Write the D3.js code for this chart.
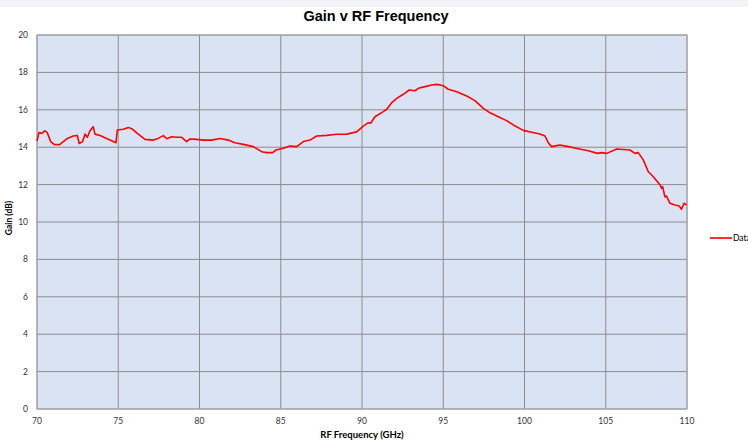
<!DOCTYPE html>
<html>
<head>
<meta charset="utf-8">
<script src="https://cdn.jsdelivr.net/npm/d3@7"></script>
<style>
  body { margin: 0; background: #fff; overflow: hidden; }
  svg { display: block; font-family: Lato, "Liberation Sans", Arial, sans-serif; }
</style>
</head>
<body>
<svg id="chart" width="748" height="441"></svg>
<script>
// Values
const freq = [70.0, 70.12, 70.29, 70.49, 70.63, 70.84, 71.05, 71.37, 71.62, 71.87, 72.23, 72.48, 72.6, 72.81, 72.95, 73.1, 73.26, 73.46, 73.57, 73.88, 74.39, 74.86,
  74.94, 75.31, 75.62, 75.83, 76.23, 76.65, 77.16, 77.46, 77.78, 77.98, 78.29, 78.6, 78.9, 79.21, 79.42, 79.83, 80.23, 80.75, 81.26, 81.77, 82.18, 82.7,
  83.31, 83.83, 84.13, 84.5, 84.71, 85.16, 85.57, 85.98, 86.39, 86.8, 87.21, 87.83, 88.44, 89.06, 89.67, 90.08, 90.39, 90.53, 90.8, 91.31, 91.52, 91.83,
  92.14, 92.54, 92.91, 93.26, 93.47, 93.88, 94.29, 94.63, 95.0, 95.31, 95.83, 96.44, 96.95, 97.47, 97.88, 98.39, 98.9, 99.31, 99.93, 100.44, 100.95,
  101.26, 101.46, 101.67, 102.18, 102.7, 103.31, 103.93, 104.49, 104.76, 105.06, 105.68, 106.49, 106.8, 107.0, 107.31, 107.62, 107.93, 108.17, 108.34,
  108.44, 108.5, 108.64, 108.74, 108.95, 109.26, 109.52, 109.66, 109.82, 109.98];
const gain = [14.33, 14.78, 14.74, 14.88, 14.78, 14.3, 14.15, 14.13, 14.3, 14.47, 14.6, 14.63, 14.2, 14.3, 14.7, 14.53, 14.88, 15.1, 14.7, 14.63, 14.42, 14.24,
  14.92, 14.96, 15.06, 14.99, 14.7, 14.42, 14.38, 14.47, 14.62, 14.45, 14.56, 14.53, 14.53, 14.3, 14.44, 14.42, 14.38, 14.38, 14.47, 14.38, 14.24, 14.15,
  14.03, 13.76, 13.71, 13.71, 13.85, 13.94, 14.06, 14.03, 14.3, 14.38, 14.6, 14.63, 14.69, 14.7, 14.82, 15.13, 15.31, 15.28, 15.63, 15.9, 16.03, 16.38,
  16.61, 16.83, 17.06, 17.02, 17.15, 17.24, 17.33, 17.36, 17.29, 17.1, 16.97, 16.74, 16.49, 16.08, 15.84, 15.63, 15.42, 15.19, 14.9, 14.8, 14.71,
  14.6, 14.24, 14.03, 14.12, 14.03, 13.92, 13.81, 13.67, 13.71, 13.67, 13.9, 13.85, 13.67, 13.71, 13.32, 12.69, 12.42, 12.16, 11.98,
  11.8, 11.89, 11.35, 11.39, 11.0, 10.91, 10.86, 10.68, 11.0, 10.91];
const xTicks = [70, 75, 80, 85, 90, 95, 100, 105, 110];
const yTicks = [0, 2, 4, 6, 8, 10, 12, 14, 16, 18, 20];

const svg = d3.select("#chart");
const plot = { left: 37, right: 687, top: 35, bottom: 409 };

const x = d3.scaleLinear().domain([70, 110]).range([plot.left, plot.right]);
const y = d3.scaleLinear().domain([0, 20]).range([plot.bottom, plot.top]);

// thin light strip at the top
svg.append("rect").attr("x", 0).attr("y", 0).attr("width", 748).attr("height", 7).attr("fill", "#f2f5f8");

// plot background
svg.append("rect")
  .attr("x", plot.left).attr("y", plot.top)
  .attr("width", plot.right - plot.left).attr("height", plot.bottom - plot.top)
  .attr("fill", "#dae3f3");

// grid
svg.append("g").selectAll("line").data(yTicks).join("line")
  .attr("x1", plot.left).attr("x2", plot.right)
  .attr("y1", d => y(d)).attr("y2", d => y(d))
  .attr("stroke", "#8c8c8c").attr("stroke-width", 1);
svg.append("g").selectAll("line").data(xTicks).join("line")
  .attr("x1", d => x(d)).attr("x2", d => x(d))
  .attr("y1", plot.top).attr("y2", plot.bottom)
  .attr("stroke", "#8c8c8c").attr("stroke-width", 1);

// plot border
svg.append("rect")
  .attr("x", plot.left).attr("y", plot.top)
  .attr("width", plot.right - plot.left).attr("height", plot.bottom - plot.top)
  .attr("fill", "none").attr("stroke", "#a6a6a6").attr("stroke-width", 1);

// tick labels
svg.append("g").selectAll("text").data(yTicks).join("text")
  .attr("x", 28).attr("y", d => y(d) + 3)
  .attr("text-anchor", "end").attr("font-size", 8.5).attr("fill", "#333")
  .text(d => d);
svg.append("g").selectAll("text").data(xTicks).join("text")
  .attr("x", d => x(d)).attr("y", 424)
  .attr("text-anchor", "middle").attr("font-size", 8.5).attr("fill", "#333")
  .text(d => d);

// data line
const line = d3.line().x((d, i) => x(freq[i])).y(d => y(d));
svg.append("path")
  .datum(gain)
  .attr("d", line)
  .attr("fill", "none").attr("stroke", "#ff0000").attr("stroke-width", 1.6)
  .attr("stroke-linejoin", "round");

// titles
svg.append("text").attr("x", 376).attr("y", 21)
  .attr("text-anchor", "middle").attr("font-size", 14.5).attr("font-weight", "bold")
  .attr("font-family", "'Liberation Sans', Arial, sans-serif")
  .text("Gain v RF Frequency");
svg.append("text").attr("x", 362).attr("y", 438)
  .attr("text-anchor", "middle").attr("font-size", 9.5).attr("font-weight", "bold")
  .text("RF Frequency (GHz)");
svg.append("text")
  .attr("transform", "translate(12,218) rotate(-90)")
  .attr("text-anchor", "middle").attr("font-size", 8.5).attr("font-weight", "bold")
  .text("Gain (dB)");

// legend (text runs past the right edge, as in the original)
svg.append("line").attr("x1", 710).attr("x2", 732).attr("y1", 238).attr("y2", 238)
  .attr("stroke", "#ff0000").attr("stroke-width", 1.6);
svg.append("text").attr("x", 733).attr("y", 241).attr("font-size", 8.5).text("Data");
</script>
</body>
</html>
